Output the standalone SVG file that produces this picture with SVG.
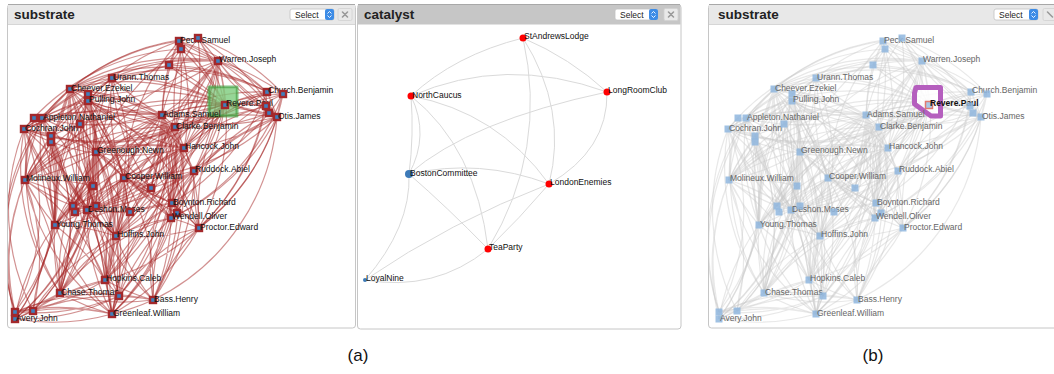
<svg xmlns="http://www.w3.org/2000/svg" xmlns:xlink="http://www.w3.org/1999/xlink" width="1054" height="374" viewBox="0 0 1054 374">
<style>
.panel{fill:#fff;stroke:#c6c6c6;stroke-width:1}
.hdrL{fill:#e8e8e8}
.hdrC{fill:#c6c6c6}
.topline{stroke:#a8a8a8;stroke-width:1}
.title{font-family:"Liberation Sans",Arial,sans-serif;font-weight:bold;font-size:13.5px;fill:#222}
.btn{fill:#fff;stroke:#c2c2c2;stroke-width:0.8}
.btnblue{fill:#3d8ce6}
.btntxt{font-family:"Liberation Sans",Arial,sans-serif;font-size:8.5px;fill:#222}
.close{fill:#e9e9e9;stroke:#d0d0d0;stroke-width:0.8}
.closex{stroke:#9a9a9a;stroke-width:1.6;stroke-linecap:round}
.chev{fill:none;stroke:#fff;stroke-width:0.9}
.edgeA{stroke:#a52626;stroke-opacity:0.5;stroke-width:1.2}
.edgeB{stroke:#c8c8c8;stroke-opacity:0.42;stroke-width:1.2}
.cedge{fill:none;stroke:#dadada;stroke-width:1}
.n{fill:#3f7fbd;stroke:#a3282b;stroke-width:2.4}
.m{fill:#8fb6de;fill-opacity:0.85}
.lbl{font-family:"Liberation Sans",Arial,sans-serif;font-size:8.5px;fill:#111}
.lbl2{font-family:"Liberation Sans",Arial,sans-serif;font-size:8.5px;fill:#666}
.cap{font-family:"Liberation Sans",Arial,sans-serif;font-size:17px;fill:#111;text-anchor:middle}
.red{fill:#ff0000}
.blue{fill:#3d7ab8}
</style>
<defs>
<clipPath id="clipL"><rect x="8" y="25" width="347" height="302"/></clipPath>
<clipPath id="clipR"><rect x="709" y="25" width="345" height="302"/></clipPath>
<g id="subEdges" fill="none">
<path d="M218 61A220 220 0 0 1 179 41M218 61A220 220 0 0 0 198 38M218 61A220 220 0 0 1 181 49M218 61A220 220 0 0 0 169 65M218 61A220 220 0 0 1 267 92M218 61A220 220 0 0 1 283 94M218 61A220 220 0 0 0 277 117M218 61A220 220 0 0 1 225 105M218 61A220 220 0 0 0 266 106M218 61A220 220 0 0 1 162 115M218 61A220 220 0 0 0 175 127M218 61A220 220 0 0 1 184 148M218 61A220 220 0 0 0 112 78M218 61A220 220 0 0 0 70 89M218 61A220 220 0 0 1 88 101M218 61A220 220 0 0 1 124 178M218 61A220 220 0 0 0 172 203M218 61A220 220 0 0 1 199 228M218 61A220 220 0 0 1 87 210M218 61A220 220 0 0 0 96 152M218 61A220 220 0 0 0 42 118M218 61A220 220 0 0 1 194 171M218 61A220 220 0 0 0 171 218M218 61A220 220 0 0 1 116 236M218 61A220 220 0 0 0 151 188"/>
<path d="M179 41A220 220 0 0 1 198 38M179 41A220 220 0 0 0 169 65M179 41A220 220 0 0 0 112 78M179 41A220 220 0 0 0 70 89M179 41A220 220 0 0 1 225 105M179 41A220 220 0 0 1 267 92M179 41A220 220 0 0 1 277 117M179 41A220 220 0 0 0 162 115M179 41A220 220 0 0 1 175 127M179 41A220 220 0 0 0 88 101M179 41A220 220 0 0 0 42 118M179 41A220 220 0 0 1 184 148M179 41A220 220 0 0 0 124 178"/>
<path d="M198 38A220 220 0 0 1 283 94M198 38A220 220 0 0 1 277 117M198 38A220 220 0 0 0 269 113M198 38A220 220 0 0 1 225 105M198 38A220 220 0 0 0 162 115M198 38A220 220 0 0 1 184 148M198 38A220 220 0 0 0 70 89"/>
<path d="M181 49A220 220 0 0 1 169 65M181 49A220 220 0 0 1 225 105M181 49A220 220 0 0 0 175 127M181 49A220 220 0 0 0 96 152M181 49A220 220 0 0 0 24 129"/>
<path d="M169 65A220 220 0 0 1 225 105M169 65A220 220 0 0 1 267 92M169 65A220 220 0 0 0 277 117M169 65A220 220 0 0 0 88 101M169 65A220 220 0 0 1 112 78M169 65A220 220 0 0 0 162 115"/>
<path d="M225 105A220 220 0 0 1 267 92M225 105A220 220 0 0 0 283 94M225 105A220 220 0 0 1 266 106M225 105A220 220 0 0 0 269 113M225 105A220 220 0 0 1 277 117M225 105A220 220 0 0 0 162 115M225 105A220 220 0 0 1 175 127M225 105A220 220 0 0 0 184 148M225 105A220 220 0 0 1 194 171M225 105A220 220 0 0 0 112 78M225 105A220 220 0 0 0 70 89M225 105A220 220 0 0 1 88 101M225 105A220 220 0 0 0 42 118M225 105A220 220 0 0 1 24 129M225 105A220 220 0 0 0 80 124M225 105A220 220 0 0 1 96 152M225 105A220 220 0 0 1 124 178M225 105A220 220 0 0 0 172 203M225 105A220 220 0 0 1 171 218M225 105A220 220 0 0 0 199 228M225 105A220 220 0 0 1 87 210M225 105A220 220 0 0 1 55 225M225 105A220 220 0 0 0 116 236M225 105A220 220 0 0 0 25 180M225 105A220 220 0 0 1 51 136M225 105A220 220 0 0 0 73 206"/>
<path d="M267 92A220 220 0 0 1 283 94M267 92A220 220 0 0 0 266 106M267 92A220 220 0 0 1 277 117M267 92A220 220 0 0 0 162 115M267 92A220 220 0 0 1 175 127M267 92A220 220 0 0 0 184 148M267 92A220 220 0 0 1 172 203M267 92A220 220 0 0 1 199 228M267 92A220 220 0 0 0 112 78M267 92A220 220 0 0 0 70 89"/>
<path d="M283 94A220 220 0 0 1 269 113M283 94A220 220 0 0 0 277 117M283 94A220 220 0 0 0 175 127M283 94A220 220 0 0 1 171 218M283 94A220 220 0 0 1 199 228M283 94A220 220 0 0 0 194 171"/>
<path d="M277 117A220 220 0 0 1 266 106M277 117A220 220 0 0 0 269 113M277 117A220 220 0 0 1 162 115M277 117A220 220 0 0 0 175 127M277 117A220 220 0 0 1 184 148M277 117A220 220 0 0 1 199 228M277 117A220 220 0 0 0 172 203M277 117A220 220 0 0 1 171 218M277 117A220 220 0 0 1 153 300M277 117A220 220 0 0 0 194 171M277 117A220 220 0 0 1 124 178"/>
<path d="M266 106A220 220 0 0 1 162 115M266 106A220 220 0 0 0 184 148M266 106A220 220 0 0 1 199 228M266 106A220 220 0 0 0 96 152M269 113A220 220 0 0 1 175 127M269 113A220 220 0 0 0 171 218M269 113A220 220 0 0 1 194 171"/>
<path d="M162 115A220 220 0 0 1 175 127M162 115A220 220 0 0 0 184 148M162 115A220 220 0 0 1 112 78M162 115A220 220 0 0 0 70 89M162 115A220 220 0 0 1 88 101M162 115A220 220 0 0 0 88 94M162 115A220 220 0 0 1 42 118M162 115A220 220 0 0 0 24 129M162 115A220 220 0 0 1 80 124M162 115A220 220 0 0 0 51 136M162 115A220 220 0 0 1 96 152M162 115A220 220 0 0 0 124 178M162 115A220 220 0 0 1 151 188M162 115A220 220 0 0 0 172 203M162 115A220 220 0 0 1 171 218M162 115A220 220 0 0 0 199 228M162 115A220 220 0 0 1 87 210M162 115A220 220 0 0 0 96 206M162 115A220 220 0 0 1 130 212M162 115A220 220 0 0 0 55 225M162 115A220 220 0 0 1 116 236M162 115A220 220 0 0 0 25 180M162 115A220 220 0 0 1 105 280M162 115A220 220 0 0 0 60 293M162 115A220 220 0 0 1 153 300M162 115A220 220 0 0 0 112 314M162 115A220 220 0 0 1 119 296M162 115A220 220 0 0 0 194 171"/>
<path d="M175 127A220 220 0 0 1 184 148M175 127A220 220 0 0 0 70 89M175 127A220 220 0 0 1 88 101M175 127A220 220 0 0 0 42 118M175 127A220 220 0 0 1 24 129M175 127A220 220 0 0 0 96 152M175 127A220 220 0 0 1 124 178M175 127A220 220 0 0 0 151 188M175 127A220 220 0 0 1 172 203M175 127A220 220 0 0 0 171 218M175 127A220 220 0 0 1 199 228M175 127A220 220 0 0 0 87 210M175 127A220 220 0 0 1 73 206M175 127A220 220 0 0 0 55 225M175 127A220 220 0 0 1 116 236M175 127A220 220 0 0 0 25 180M175 127A220 220 0 0 1 105 280M175 127A220 220 0 0 0 60 293M175 127A220 220 0 0 1 153 300M175 127A220 220 0 0 0 112 314M175 127A220 220 0 0 1 119 296M175 127A220 220 0 0 0 33 311"/>
<path d="M184 148A220 220 0 0 1 124 178M184 148A220 220 0 0 0 194 171M184 148A220 220 0 0 1 172 203M184 148A220 220 0 0 0 96 152M184 148A220 220 0 0 1 88 101M184 148A220 220 0 0 0 70 89M184 148A220 220 0 0 1 87 210M184 148A220 220 0 0 0 55 225M184 148A220 220 0 0 1 116 236M184 148A220 220 0 0 0 25 180M184 148A220 220 0 0 1 105 280M184 148A220 220 0 0 0 153 300M184 148A220 220 0 0 1 112 314M184 148A220 220 0 0 0 60 293M184 148A220 220 0 0 1 51 142"/>
<path d="M70 89A220 220 0 0 1 112 78M70 89A220 220 0 0 0 88 94M70 89A220 220 0 0 1 88 101M70 89A220 220 0 0 0 42 118M70 89A220 220 0 0 1 24 129M70 89A220 220 0 0 0 80 124M70 89A220 220 0 0 1 51 136M70 89A220 220 0 0 0 96 152M70 89A220 220 0 0 1 25 180M70 89A220 220 0 0 0 87 210M70 89A220 220 0 0 1 73 206M70 89A220 220 0 0 0 55 225M70 89A220 220 0 0 1 124 178M70 89A220 220 0 0 0 116 236M70 89A220 220 0 0 1 60 293M70 89A220 220 0 0 0 15 312M70 89A220 220 0 0 1 105 280M70 89A220 220 0 0 0 93 186M70 89A220 220 0 0 1 172 203"/>
<path d="M88 101A220 220 0 0 1 112 78M88 101A220 220 0 0 0 42 118M88 101A220 220 0 0 1 24 129M88 101A220 220 0 0 0 80 124M88 101A220 220 0 0 1 96 152M88 101A220 220 0 0 0 25 180M88 101A220 220 0 0 1 75 212M88 101A220 220 0 0 0 55 225M88 101A220 220 0 0 1 124 178M88 101A220 220 0 0 0 116 236M88 101A220 220 0 0 1 60 293M88 101A220 220 0 0 0 105 280M88 101A220 220 0 0 1 112 314M88 101A220 220 0 0 0 171 218M88 101A220 220 0 0 1 199 228M88 101A220 220 0 0 0 151 188M88 101A220 220 0 0 1 15 319"/>
<path d="M88 94A220 220 0 0 1 24 129M88 94A220 220 0 0 0 51 136M88 94A220 220 0 0 1 87 210M88 94A220 220 0 0 0 55 225M88 94A220 220 0 0 1 116 236M88 94A220 220 0 0 0 153 300M88 94A220 220 0 0 1 33 311"/>
<path d="M112 78A220 220 0 0 1 88 94M112 78A220 220 0 0 0 42 118M112 78A220 220 0 0 1 96 152M112 78A220 220 0 0 0 124 178M112 78A220 220 0 0 1 25 180M112 78A220 220 0 0 0 96 206M112 78A220 220 0 0 1 116 236M112 78A220 220 0 0 0 151 188"/>
<path d="M42 118A220 220 0 0 1 34 118M42 118A220 220 0 0 0 24 129M42 118A220 220 0 0 1 51 136M42 118A220 220 0 0 0 51 142M42 118A220 220 0 0 1 96 152M42 118A220 220 0 0 0 25 180M42 118A220 220 0 0 1 73 206M42 118A220 220 0 0 0 55 225M42 118A220 220 0 0 1 124 178M42 118A220 220 0 0 0 87 210M42 118A220 220 0 0 1 60 293M42 118A220 220 0 0 0 15 312M42 118A220 220 0 0 1 15 319M42 118A220 220 0 0 0 116 236M42 118A220 220 0 0 1 105 280"/>
<path d="M34 118A220 220 0 0 1 24 129M34 118A220 220 0 0 0 25 180M34 118A220 220 0 0 1 55 225M34 118A220 220 0 0 0 60 293"/>
<path d="M24 129A220 220 0 0 1 51 136M24 129A220 220 0 0 0 51 142M24 129A220 220 0 0 1 25 180M24 129A220 220 0 0 0 73 206M24 129A220 220 0 0 1 55 225M24 129A220 220 0 0 0 60 293M24 129A220 220 0 0 1 15 312M24 129A220 220 0 0 0 33 311M24 129A220 220 0 0 1 96 152M24 129A220 220 0 0 0 87 210M24 129A220 220 0 0 1 105 280"/>
<path d="M80 124A220 220 0 0 1 96 152M80 124A220 220 0 0 0 25 180M80 124A220 220 0 0 1 87 210M80 124A220 220 0 0 0 55 225M80 124A220 220 0 0 1 116 236M80 124A220 220 0 0 0 93 186M51 136A220 220 0 0 1 51 142M51 136A220 220 0 0 0 25 180M51 136A220 220 0 0 1 55 225M51 136A220 220 0 0 0 87 210M51 136A220 220 0 0 1 60 293M51 142A220 220 0 0 1 25 180M51 142A220 220 0 0 0 55 225M51 142A220 220 0 0 1 15 319M51 142A220 220 0 0 0 116 236"/>
<path d="M96 152A220 220 0 0 1 25 180M96 152A220 220 0 0 0 93 186M96 152A220 220 0 0 1 124 178M96 152A220 220 0 0 0 87 210M96 152A220 220 0 0 1 73 206M96 152A220 220 0 0 0 75 212M96 152A220 220 0 0 1 96 206M96 152A220 220 0 0 0 130 212M96 152A220 220 0 0 1 55 225M96 152A220 220 0 0 0 116 236M96 152A220 220 0 0 1 105 280M96 152A220 220 0 0 0 60 293M96 152A220 220 0 0 1 112 314M96 152A220 220 0 0 0 119 296M96 152A220 220 0 0 1 33 311M96 152A220 220 0 0 0 172 203M96 152A220 220 0 0 1 171 218"/>
<path d="M25 180A220 220 0 0 1 93 186M25 180A220 220 0 0 0 73 206M25 180A220 220 0 0 1 87 210M25 180A220 220 0 0 0 55 225M25 180A220 220 0 0 1 60 293M25 180A220 220 0 0 0 15 312M25 180A220 220 0 0 1 33 311M25 180A220 220 0 0 0 15 319M25 180A220 220 0 0 1 105 280M25 180A220 220 0 0 0 112 314M25 180A220 220 0 0 1 116 236"/>
<path d="M124 178A220 220 0 0 1 151 188M124 178A220 220 0 0 0 172 203M124 178A220 220 0 0 1 171 218M124 178A220 220 0 0 0 177 213M124 178A220 220 0 0 1 199 228M124 178A220 220 0 0 0 87 210M124 178A220 220 0 0 1 96 206M124 178A220 220 0 0 0 130 212M124 178A220 220 0 0 1 116 236M124 178A220 220 0 0 0 55 225M124 178A220 220 0 0 1 105 280M124 178A220 220 0 0 0 119 296M124 178A220 220 0 0 1 153 300M124 178A220 220 0 0 0 112 314M124 178A220 220 0 0 1 60 293M124 178A220 220 0 0 0 194 171"/>
<path d="M194 171A220 220 0 0 1 151 188M194 171A220 220 0 0 0 172 203M194 171A220 220 0 0 1 171 218M194 171A220 220 0 0 0 199 228M194 171A220 220 0 0 1 177 213M194 171A220 220 0 0 0 116 236M194 171A220 220 0 0 1 153 300M194 171A220 220 0 0 0 112 314M194 171A220 220 0 0 1 87 210"/>
<path d="M172 203A220 220 0 0 1 177 213M172 203A220 220 0 0 0 171 218M172 203A220 220 0 0 1 199 228M172 203A220 220 0 0 0 130 212M172 203A220 220 0 0 1 116 236M172 203A220 220 0 0 0 153 300M172 203A220 220 0 0 1 112 314M172 203A220 220 0 0 0 105 280M172 203A220 220 0 0 1 87 210"/>
<path d="M171 218A220 220 0 0 1 199 228M171 218A220 220 0 0 0 116 236M171 218A220 220 0 0 1 153 300M171 218A220 220 0 0 0 119 296M171 218A220 220 0 0 1 112 314M171 218A220 220 0 0 0 60 293M199 228A220 220 0 0 1 116 236M199 228A220 220 0 0 0 153 300M199 228A220 220 0 0 1 112 314M199 228A220 220 0 0 0 119 296M199 228A220 220 0 0 1 105 280"/>
<path d="M87 210A220 220 0 0 1 73 206M87 210A220 220 0 0 0 75 212M87 210A220 220 0 0 1 96 206M87 210A220 220 0 0 0 130 212M87 210A220 220 0 0 1 55 225M87 210A220 220 0 0 0 116 236M87 210A220 220 0 0 1 105 280M87 210A220 220 0 0 0 60 293M87 210A220 220 0 0 1 15 319M87 210A220 220 0 0 0 112 314M87 210A220 220 0 0 1 119 296"/>
<path d="M55 225A220 220 0 0 1 116 236M55 225A220 220 0 0 0 60 293M55 225A220 220 0 0 1 15 312M55 225A220 220 0 0 0 15 319M55 225A220 220 0 0 1 105 280M55 225A220 220 0 0 0 112 314M116 236A220 220 0 0 1 105 280M116 236A220 220 0 0 0 60 293M116 236A220 220 0 0 1 119 296M116 236A220 220 0 0 0 153 300M116 236A220 220 0 0 1 112 314M116 236A220 220 0 0 0 33 311"/>
<path d="M105 280A220 220 0 0 1 60 293M105 280A220 220 0 0 0 119 296M105 280A220 220 0 0 1 112 314M105 280A220 220 0 0 0 153 300M105 280A220 220 0 0 1 15 312M105 280A220 220 0 0 0 33 311M60 293A220 220 0 0 1 15 312M60 293A220 220 0 0 0 33 311M60 293A220 220 0 0 1 15 319M60 293A220 220 0 0 0 112 314M60 293A220 220 0 0 1 119 296M60 293A220 220 0 0 0 153 300"/>
<path d="M15 312A220 220 0 0 1 33 311M15 312A220 220 0 0 0 15 319M15 312A220 220 0 0 1 112 314M15 312A220 220 0 0 0 119 296M15 312A220 220 0 0 1 153 300M15 319A220 220 0 0 0 112 314M15 319A220 220 0 0 1 153 300M15 319A220 220 0 0 0 119 296M33 311A220 220 0 0 1 112 314M112 314A220 220 0 0 1 119 296M112 314A220 220 0 0 0 153 300M151 188A220 220 0 0 1 130 212M151 188A220 220 0 0 0 116 236M151 188A220 220 0 0 1 87 210M93 186A220 220 0 0 1 87 210M93 186A220 220 0 0 0 55 225"/>
</g>
</defs>

<rect width="1054" height="374" fill="#fff"/>

<!-- Panel frames -->
<g id="panel-substrate-a">
<rect class="panel" x="7.5" y="4.5" width="348" height="323.5" rx="3"/>
<rect class="hdrL" x="8" y="5" width="347" height="19.5"/>
<line class="topline" x1="8" y1="4.5" x2="355" y2="4.5"/>
<line x1="8" y1="24.5" x2="355" y2="24.5" stroke="#d6d6d6"/>
<text class="title" x="14" y="19">substrate</text>
<rect class="btn" x="290" y="9" width="44" height="11" rx="2"/>
<rect class="btnblue" x="325" y="9" width="9" height="11" rx="2"/>
<path class="chev" d="M327.5 13.5l2-2 2 2M327.5 15.5l2 2 2-2"/>
<text class="btntxt" x="295" y="17.5">Select</text>
<rect class="close" x="338" y="8.5" width="14" height="12" rx="1.5"/>
<path class="closex" d="M342.5 12l5 5M347.5 12l-5 5"/>
</g>
<g id="panel-catalyst">
<rect class="panel" x="357.5" y="4.5" width="323.5" height="324.5" rx="3"/>
<rect class="hdrC" x="358" y="5" width="322.5" height="19.5"/>
<line class="topline" x1="358" y1="4.5" x2="680" y2="4.5"/>
<text class="title" x="364" y="19">catalyst</text>
<rect class="btn" x="615" y="9" width="43" height="11" rx="2"/>
<rect class="btnblue" x="649" y="9" width="9" height="11" rx="2"/>
<path class="chev" d="M651.5 13.5l2-2 2 2M651.5 15.5l2 2 2-2"/>
<text class="btntxt" x="620" y="17.5">Select</text>
<rect class="close" x="664" y="8.5" width="14" height="12" rx="1.5"/>
<path class="closex" d="M668.5 12l5 5M673.5 12l-5 5"/>
</g>
<g id="panel-substrate-b">
<rect class="panel" x="708.5" y="4.5" width="360" height="323.5" rx="3"/>
<rect class="hdrL" x="709" y="5" width="350" height="19.5"/>
<line class="topline" x1="709" y1="4.5" x2="1054" y2="4.5"/>
<line x1="709" y1="24.5" x2="1054" y2="24.5" stroke="#d6d6d6"/>
<text class="title" x="718" y="19">substrate</text>
<rect class="btn" x="994" y="9" width="44" height="11" rx="2"/>
<rect class="btnblue" x="1029" y="9" width="9" height="11" rx="2"/>
<path class="chev" d="M1031.5 13.5l2-2 2 2M1031.5 15.5l2 2 2-2"/>
<text class="btntxt" x="999" y="17.5">Select</text>
<rect class="close" x="1043" y="8.5" width="14" height="12" rx="1.5"/>
<path class="closex" d="M1047.5 12l5 5"/>
</g>

<!-- Connectors -->
<g id="connectors">
<g clip-path="url(#clipL)"><use xlink:href="#subEdges" class="edgeA"/></g>
<g clip-path="url(#clipR)"><use xlink:href="#subEdges" class="edgeB" transform="translate(704,0)"/></g>
<g id="catalyst-edges">
<path class="cedge" d="M523 38Q455 55 411 96"/>
<path class="cedge" d="M523 38Q570 58 607 92"/>
<path class="cedge" d="M523 38Q568 110 549 184"/>
<path class="cedge" d="M523 38Q548 150 488 249"/>
<path class="cedge" d="M411 96Q505 55 607 92"/>
<path class="cedge" d="M411 96Q430 135 409 174"/>
<path class="cedge" d="M411 96Q414 135 409 174"/>
<path class="cedge" d="M411 96Q476 148 488 249"/>
<path class="cedge" d="M411 96Q497 112 549 184"/>
<path class="cedge" d="M409 174Q470 121 607 92"/>
<path class="cedge" d="M607 92Q608 150 549 184"/>
<path class="cedge" d="M409 174Q480 158 549 184"/>
<path class="cedge" d="M409 174Q447 207 488 249"/>
<path class="cedge" d="M409 174Q411 227 365 280"/>
<path class="cedge" d="M365 280Q450 222 549 184"/>
<path class="cedge" d="M365 280Q435 292 488 249"/>
<path class="cedge" d="M549 184Q520 218 488 249"/>
</g>
</g>

<!-- Green selection on Revere (a) -->
<g id="revere-highlight-a">
<rect x="209" y="87" width="28" height="29" fill="#5cb85c" fill-opacity="0.6" stroke="#3f9f3f" stroke-opacity="0.65" stroke-width="3" stroke-linejoin="round"/>
<rect x="216" y="88" width="20" height="14" fill="#8fd88f" fill-opacity="0.5"/>
</g>

<!-- Substrate (a) nodes -->
<g id="a-peck1"><rect class="n" x="176" y="38" width="6" height="6"/><text class="lbl" x="180" y="43">Peck.Samuel</text></g>
<g id="a-peck2"><rect class="n" x="195" y="35" width="6" height="6"/></g>
<g id="a-peck3"><rect class="n" x="178" y="46" width="6" height="6"/></g>
<g id="a-n65"><rect class="n" x="166" y="62" width="6" height="6"/></g>
<g id="a-warren"><rect class="n" x="215" y="58" width="6" height="6"/><text class="lbl" x="219" y="62">Warren.Joseph</text></g>
<g id="a-urann"><rect class="n" x="109" y="75" width="6" height="6"/><text class="lbl" x="113" y="80">Urann.Thomas</text></g>
<g id="a-cheever"><rect class="n" x="67" y="86" width="6" height="6"/><text class="lbl" x="71" y="91">Cheever.Ezekiel</text></g>
<g id="a-pull1"><rect class="n" x="85" y="91" width="6" height="6"/></g>
<g id="a-pulling"><rect class="n" x="85" y="98" width="6" height="6"/><text class="lbl" x="89" y="102">Pulling.John</text></g>
<g id="a-church1"><rect class="n" x="264" y="89" width="6" height="6"/><text class="lbl" x="268" y="93">Church.Benjamin</text></g>
<g id="a-church2"><rect class="n" x="280" y="91" width="6" height="6"/></g>
<g id="a-revere"><rect class="n" x="222" y="102" width="6" height="6"/><text class="lbl" x="226" y="106">Revere.Paul</text></g>
<g id="a-r2"><rect class="n" x="263" y="103" width="6" height="6"/></g>
<g id="a-r3"><rect class="n" x="266" y="110" width="6" height="6"/></g>
<g id="a-otis"><rect class="n" x="274" y="114" width="6" height="6"/><text class="lbl" x="278" y="119">Otis.James</text></g>
<g id="a-appl1"><rect class="n" x="31" y="115" width="6" height="6"/></g>
<g id="a-appleton"><rect class="n" x="39" y="115" width="6" height="6"/><text class="lbl" x="43" y="120">Appleton.Nathaniel</text></g>
<g id="a-cochran"><rect class="n" x="21" y="126" width="6" height="6"/><text class="lbl" x="25" y="131">Cochran.John</text></g>
<g id="a-n80"><rect class="n" x="77" y="121" width="6" height="6"/></g>
<g id="a-n51a"><rect class="n" x="48" y="133" width="6" height="6"/></g>
<g id="a-n51b"><rect class="n" x="48" y="139" width="6" height="6"/></g>
<g id="a-adams"><rect class="n" x="159" y="112" width="6" height="6"/><text class="lbl" x="163" y="117">Adams.Samuel</text></g>
<g id="a-clarke"><rect class="n" x="172" y="124" width="6" height="6"/><text class="lbl" x="176" y="129">Clarke.Benjamin</text></g>
<g id="a-greenough"><rect class="n" x="93" y="149" width="6" height="6"/><text class="lbl" x="97" y="153">Greenough.Newn</text></g>
<g id="a-hancock"><rect class="n" x="181" y="145" width="6" height="6"/><text class="lbl" x="185" y="149">Hancock.John</text></g>
<g id="a-ruddock"><rect class="n" x="191" y="168" width="6" height="6"/><text class="lbl" x="195" y="172">Ruddock.Abiel</text></g>
<g id="a-molineux"><rect class="n" x="22" y="177" width="6" height="6"/><text class="lbl" x="26" y="181">Molineux.William</text></g>
<g id="a-n93"><rect class="n" x="90" y="183" width="6" height="6"/></g>
<g id="a-cooper"><rect class="n" x="121" y="175" width="6" height="6"/><text class="lbl" x="125" y="179">Cooper.William</text></g>
<g id="a-n151"><rect class="n" x="148" y="185" width="6" height="6"/></g>
<g id="a-boynton"><rect class="n" x="169" y="200" width="6" height="6"/><text class="lbl" x="173" y="205">Boynton.Richard</text></g>
<g id="a-n177"><rect class="n" x="174" y="210" width="6" height="6"/></g>
<g id="a-wendell"><rect class="n" x="168" y="215" width="6" height="6"/><text class="lbl" x="172" y="219">Wendell.Oliver</text></g>
<g id="a-proctor"><rect class="n" x="196" y="225" width="6" height="6"/><text class="lbl" x="200" y="230">Proctor.Edward</text></g>
<g id="a-d1"><rect class="n" x="70" y="203" width="6" height="6"/></g>
<g id="a-d2"><rect class="n" x="72" y="209" width="6" height="6"/></g>
<g id="a-deshon"><rect class="n" x="84" y="207" width="6" height="6"/><text class="lbl" x="88" y="212">Deshon.Moses</text></g>
<g id="a-d4"><rect class="n" x="93" y="203" width="6" height="6"/></g>
<g id="a-d5"><rect class="n" x="127" y="209" width="6" height="6"/></g>
<g id="a-young"><rect class="n" x="52" y="222" width="6" height="6"/><text class="lbl" x="56" y="227">Young.Thomas</text></g>
<g id="a-hoffins"><rect class="n" x="113" y="233" width="6" height="6"/><text class="lbl" x="117" y="237">Hoffins.John</text></g>
<g id="a-hopkins"><rect class="n" x="102" y="277" width="6" height="6"/><text class="lbl" x="106" y="281">Hopkins.Caleb</text></g>
<g id="a-chase"><rect class="n" x="57" y="290" width="6" height="6"/><text class="lbl" x="61" y="295">Chase.Thomas</text></g>
<g id="a-n119"><rect class="n" x="116" y="293" width="6" height="6"/></g>
<g id="a-bass"><rect class="n" x="150" y="297" width="6" height="6"/><text class="lbl" x="154" y="302">Bass.Henry</text></g>
<g id="a-greenleaf"><rect class="n" x="109" y="311" width="6" height="6"/><text class="lbl" x="113" y="316">Greenleaf.William</text></g>
<g id="a-avery1"><rect class="n" x="12" y="309" width="6" height="6"/></g>
<g id="a-avery2"><rect class="n" x="30" y="308" width="6" height="6"/></g>
<g id="a-avery"><rect class="n" x="12" y="316" width="6" height="6"/><text class="lbl" x="16" y="321">Avery.John</text></g>

<!-- Catalyst nodes -->
<g id="c-standrews"><circle class="red" cx="523" cy="38" r="3.5"/><text class="lbl" x="524" y="39">StAndrewsLodge</text></g>
<g id="c-northcaucus"><circle class="red" cx="411" cy="96" r="3.5"/><text class="lbl" x="412" y="98">NorthCaucus</text></g>
<g id="c-longroom"><circle class="red" cx="607" cy="92" r="3.5"/><text class="lbl" x="608" y="93">LongRoomClub</text></g>
<g id="c-boston"><circle class="blue" cx="409" cy="174" r="4"/><text class="lbl" x="410" y="176">BostonCommittee</text></g>
<g id="c-london"><circle class="red" cx="549" cy="184" r="3.5"/><text class="lbl" x="550" y="185">LondonEnemies</text></g>
<g id="c-teaparty"><circle class="red" cx="488" cy="249" r="3.5"/><text class="lbl" x="489" y="250">TeaParty</text></g>
<g id="c-loyalnine"><circle class="blue" cx="365" cy="280" r="2"/><text class="lbl" x="366" y="281">LoyalNine</text></g>

<!-- Substrate (b) hull -->
<g id="revere-hull-b">
<polygon points="916,87.5 940.5,87.5 940.5,116 931,116 914.5,104 914.5,93" fill="#fff" fill-opacity="0.85" stroke="#b55fbe" stroke-width="5" stroke-linejoin="round"/>
</g>

<!-- Substrate (b) nodes -->
<g id="b-peck1"><rect class="m" x="879.5" y="37.5" width="7" height="7"/><text class="lbl2" x="884" y="43">Peck.Samuel</text></g>
<g id="b-peck2"><rect class="m" x="898.5" y="34.5" width="7" height="7"/></g>
<g id="b-peck3"><rect class="m" x="881.5" y="45.5" width="7" height="7"/></g>
<g id="b-n65"><rect class="m" x="869.5" y="61.5" width="7" height="7"/></g>
<g id="b-warren"><rect class="m" x="918.5" y="57.5" width="7" height="7"/><text class="lbl2" x="923" y="62">Warren.Joseph</text></g>
<g id="b-urann"><rect class="m" x="812.5" y="74.5" width="7" height="7"/><text class="lbl2" x="817" y="80">Urann.Thomas</text></g>
<g id="b-cheever"><rect class="m" x="770.5" y="85.5" width="7" height="7"/><text class="lbl2" x="775" y="91">Cheever.Ezekiel</text></g>
<g id="b-pull1"><rect class="m" x="788.5" y="90.5" width="7" height="7"/></g>
<g id="b-pulling"><rect class="m" x="788.5" y="97.5" width="7" height="7"/><text class="lbl2" x="793" y="102">Pulling.John</text></g>
<g id="b-church1"><rect class="m" x="967.5" y="88.5" width="7" height="7"/><text class="lbl2" x="972" y="93">Church.Benjamin</text></g>
<g id="b-church2"><rect class="m" x="983.5" y="90.5" width="7" height="7"/></g>
<g id="b-revere"><rect x="925.5" y="101.5" width="7" height="7" fill="#a9c8e6" stroke="#e07a70" stroke-width="1.5"/><text class="lbl" x="930" y="106" font-weight="bold">Revere.Paul</text></g>
<g id="b-r2"><rect class="m" x="966.5" y="102.5" width="7" height="7"/></g>
<g id="b-r3"><rect class="m" x="969.5" y="109.5" width="7" height="7"/></g>
<g id="b-otis"><rect class="m" x="977.5" y="113.5" width="7" height="7"/><text class="lbl2" x="982" y="119">Otis.James</text></g>
<g id="b-appl1"><rect class="m" x="734.5" y="114.5" width="7" height="7"/></g>
<g id="b-appleton"><rect class="m" x="742.5" y="114.5" width="7" height="7"/><text class="lbl2" x="747" y="120">Appleton.Nathaniel</text></g>
<g id="b-cochran"><rect class="m" x="724.5" y="125.5" width="7" height="7"/><text class="lbl2" x="729" y="131">Cochran.John</text></g>
<g id="b-n80"><rect class="m" x="780.5" y="120.5" width="7" height="7"/></g>
<g id="b-n51a"><rect class="m" x="751.5" y="132.5" width="7" height="7"/></g>
<g id="b-n51b"><rect class="m" x="751.5" y="138.5" width="7" height="7"/></g>
<g id="b-adams"><rect class="m" x="862.5" y="111.5" width="7" height="7"/><text class="lbl2" x="867" y="117">Adams.Samuel</text></g>
<g id="b-clarke"><rect class="m" x="875.5" y="123.5" width="7" height="7"/><text class="lbl2" x="880" y="129">Clarke.Benjamin</text></g>
<g id="b-greenough"><rect class="m" x="796.5" y="148.5" width="7" height="7"/><text class="lbl2" x="801" y="153">Greenough.Newn</text></g>
<g id="b-hancock"><rect class="m" x="884.5" y="144.5" width="7" height="7"/><text class="lbl2" x="889" y="149">Hancock.John</text></g>
<g id="b-ruddock"><rect class="m" x="894.5" y="167.5" width="7" height="7"/><text class="lbl2" x="899" y="172">Ruddock.Abiel</text></g>
<g id="b-molineux"><rect class="m" x="725.5" y="176.5" width="7" height="7"/><text class="lbl2" x="730" y="181">Molineux.William</text></g>
<g id="b-n93"><rect class="m" x="793.5" y="182.5" width="7" height="7"/></g>
<g id="b-cooper"><rect class="m" x="824.5" y="174.5" width="7" height="7"/><text class="lbl2" x="829" y="179">Cooper.William</text></g>
<g id="b-n151"><rect class="m" x="851.5" y="184.5" width="7" height="7"/></g>
<g id="b-boynton"><rect class="m" x="872.5" y="199.5" width="7" height="7"/><text class="lbl2" x="877" y="205">Boynton.Richard</text></g>
<g id="b-n177"><rect class="m" x="877.5" y="209.5" width="7" height="7"/></g>
<g id="b-wendell"><rect class="m" x="871.5" y="214.5" width="7" height="7"/><text class="lbl2" x="876" y="219">Wendell.Oliver</text></g>
<g id="b-proctor"><rect class="m" x="899.5" y="224.5" width="7" height="7"/><text class="lbl2" x="904" y="230">Proctor.Edward</text></g>
<g id="b-d1"><rect class="m" x="773.5" y="202.5" width="7" height="7"/></g>
<g id="b-d2"><rect class="m" x="775.5" y="208.5" width="7" height="7"/></g>
<g id="b-deshon"><rect class="m" x="787.5" y="206.5" width="7" height="7"/><text class="lbl2" x="792" y="212">Deshon.Moses</text></g>
<g id="b-d4"><rect class="m" x="796.5" y="202.5" width="7" height="7"/></g>
<g id="b-d5"><rect class="m" x="830.5" y="208.5" width="7" height="7"/></g>
<g id="b-young"><rect class="m" x="755.5" y="221.5" width="7" height="7"/><text class="lbl2" x="760" y="227">Young.Thomas</text></g>
<g id="b-hoffins"><rect class="m" x="816.5" y="232.5" width="7" height="7"/><text class="lbl2" x="821" y="237">Hoffins.John</text></g>
<g id="b-hopkins"><rect class="m" x="805.5" y="276.5" width="7" height="7"/><text class="lbl2" x="810" y="281">Hopkins.Caleb</text></g>
<g id="b-chase"><rect class="m" x="760.5" y="289.5" width="7" height="7"/><text class="lbl2" x="765" y="295">Chase.Thomas</text></g>
<g id="b-n119"><rect class="m" x="819.5" y="292.5" width="7" height="7"/></g>
<g id="b-bass"><rect class="m" x="853.5" y="296.5" width="7" height="7"/><text class="lbl2" x="858" y="302">Bass.Henry</text></g>
<g id="b-greenleaf"><rect class="m" x="812.5" y="310.5" width="7" height="7"/><text class="lbl2" x="817" y="316">Greenleaf.William</text></g>
<g id="b-avery1"><rect class="m" x="715.5" y="308.5" width="7" height="7"/></g>
<g id="b-avery2"><rect class="m" x="733.5" y="307.5" width="7" height="7"/></g>
<g id="b-avery"><rect class="m" x="715.5" y="315.5" width="7" height="7"/><text class="lbl2" x="720" y="321">Avery.John</text></g>

<!-- Captions -->
<text class="cap" x="358" y="361">(a)</text>
<text class="cap" x="873" y="361">(b)</text>
</svg>
